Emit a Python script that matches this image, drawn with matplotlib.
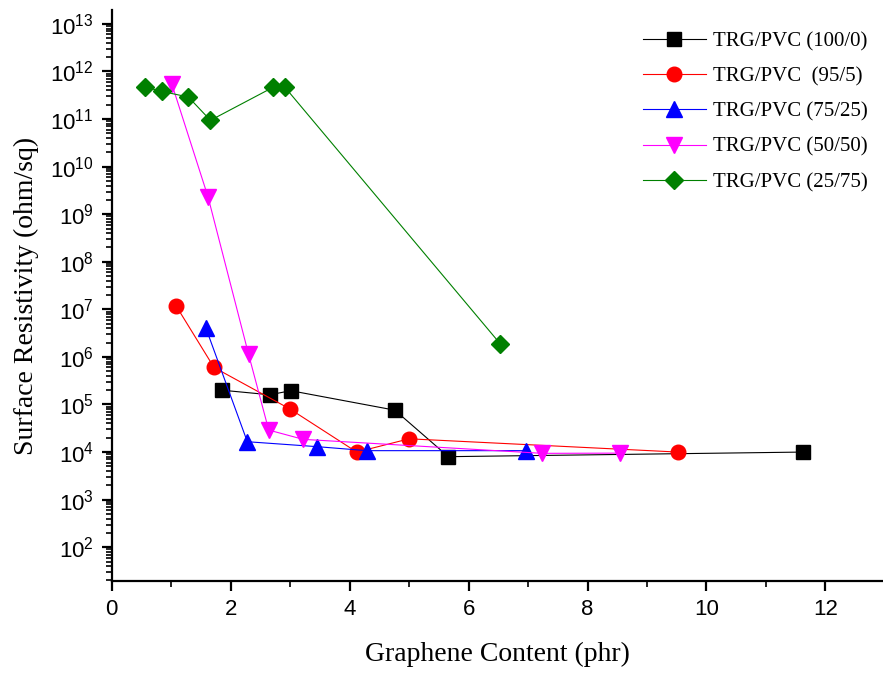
import numpy as np
import matplotlib
matplotlib.use("Agg")
import matplotlib.pyplot as plt
from matplotlib.ticker import LogLocator, LogFormatterMathtext, MultipleLocator, NullFormatter

plt.rcParams['mathtext.default'] = 'regular'

# data (graphene content in phr, resistivity in ohm/sq)
x_100_0 = [1.85, 2.66, 3.01, 4.76, 5.66, 11.62]
y_100_0 = [2.0e5, 1.6e5, 1.95e5, 7.6e4, 8.0e3, 1.0e4]

x_95_5 = [1.08, 1.72, 3.0, 4.12, 5.0, 9.52]
y_95_5 = [1.2e7, 6.0e5, 8.0e4, 1.0e4, 1.9e4, 1.0e4]

x_75_25 = [1.585, 2.28, 3.45, 4.29, 6.97]
y_75_25 = [4.0e6, 1.65e4, 1.3e4, 1.07e4, 1.07e4]

x_50_50 = [1.01, 1.62, 2.30, 2.64, 3.22, 7.24, 8.54]
y_50_50 = [5.5e11, 2.3e9, 1.15e6, 2.9e4, 1.85e4, 9.4e3, 9.5e3]

x_25_75 = [0.56, 0.85, 1.29, 1.66, 2.72, 2.91, 6.53]
y_25_75 = [4.7e11, 3.8e11, 2.9e11, 9.4e10, 4.7e11, 4.7e11, 1.9e6]

fig = plt.figure(figsize=(8.83, 6.74), dpi=100)
ax = fig.add_axes([0.1265, 0.138, 0.873, 0.847])

ax.plot(x_100_0, y_100_0, color='black', marker='s', markersize=9.5, linewidth=0.8, label='TRG/PVC (100/0)')
ax.plot(x_95_5, y_95_5, color='red', marker='o', markersize=10.5, linewidth=0.8, label='TRG/PVC  (95/5)')
ax.plot(x_75_25, y_75_25, color='blue', marker='^', markersize=11.5, linewidth=0.8, label='TRG/PVC (75/25)')
ax.plot(x_50_50, y_50_50, color='magenta', marker='v', markersize=11.5, linewidth=0.8, label='TRG/PVC (50/50)')
ax.plot(x_25_75, y_25_75, color='green', marker='D', markersize=9.5, linewidth=0.8, label='TRG/PVC (25/75)')

ax.set_yscale('log')
ax.set_xlim(0, 12.96)
ax.set_ylim(10**1.29, 10**13.29)

ax.xaxis.set_major_locator(MultipleLocator(2))
ax.xaxis.set_minor_locator(MultipleLocator(1))
ax.yaxis.set_major_locator(LogLocator(base=10, numticks=20))
ax.yaxis.set_major_formatter(LogFormatterMathtext())
ax.yaxis.set_minor_locator(LogLocator(base=10, subs=np.arange(2, 10), numticks=20))
ax.yaxis.set_minor_formatter(NullFormatter())

ax.spines['top'].set_visible(False)
ax.spines['right'].set_visible(False)
ax.spines['left'].set_linewidth(1.6)
ax.spines['bottom'].set_linewidth(1.6)

ax.tick_params(which='major', direction='out', length=7, width=1.6,
               labelsize=16, pad=6)
ax.tick_params(which='minor', direction='out', length=4, width=1.2)
for lab in ax.get_xticklabels() + ax.get_yticklabels():
    lab.set_family('Liberation Sans')

ax.set_xlabel('Graphene Content (phr)', family='Liberation Serif', fontsize=20, labelpad=16)
ax.set_ylabel('Surface Resistivity (ohm/sq)', family='Liberation Serif', fontsize=20, labelpad=8)

leg = ax.legend(loc='upper right', bbox_to_anchor=(1.005, 0.995), frameon=False,
                prop={'family': 'Liberation Serif', 'size': 15},
                handlelength=3.0, handletextpad=0.35, labelspacing=0.75)

fig.savefig('out.png', dpi=100)
